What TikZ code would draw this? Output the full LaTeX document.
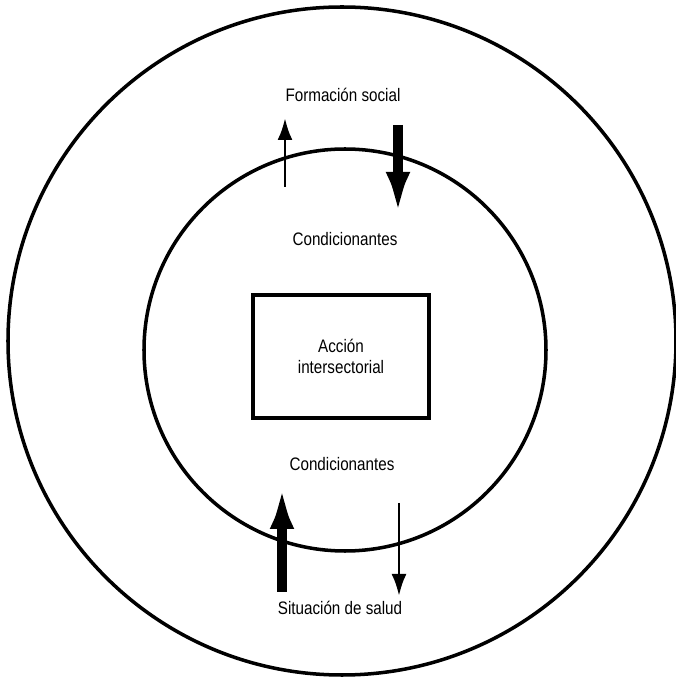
\documentclass[tikz,border=0pt]{standalone}
\usepackage{fontspec}
\setmainfont{Liberation Sans}[FakeStretch=0.84]
\usetikzlibrary{arrows.meta}

\begin{document}
\begin{tikzpicture}[
    lbl/.style={font=\fontsize{10.3}{12.4}\selectfont, inner sep=1pt},
    ring/.style={line width=2pt},
    thinarrow/.style={line width=1.7pt, -{Latex[length=0.44cm, width=0.3cm]}},
    thickarrow/.style={line width=5.8pt, -{Latex[length=1.02cm, width=0.46cm]}}
]
    % Frame
    \useasboundingbox (0,0) rectangle (13.5,13.56);

    % Circles
    \draw[ring] (6.84,6.74) circle (6.68);
    \draw[ring] (6.90,6.56) circle (4.02);

    % Centre box
    \node[draw, line width=2pt, minimum width=3.52cm, minimum height=2.46cm,
          align=center, lbl] (accion) at (6.82,6.43) {Acción\\intersectorial};

    % Labels
    \node[lbl] (formacion) at (6.86,11.66) {Formación social};
    \node[lbl] (condsup) at (6.90,8.78) {Condicionantes};
    \node[lbl] (condinf) at (6.84,4.28) {Condicionantes};
    \node[lbl] (salud) at (6.80,1.40) {Situación de salud};

    % Arrow ends
    \coordinate (supA) at (5.70,9.82);
    \coordinate (supB) at (5.70,11.20);
    \coordinate (supC) at (7.96,11.06);
    \coordinate (supD) at (7.96,9.10);
    \coordinate (infA) at (5.64,1.72);
    \coordinate (infB) at (5.64,4.00);
    \coordinate (infC) at (7.98,3.50);
    \coordinate (infD) at (7.98,1.64);

    % Arrows
    \draw[thinarrow] (supA) -- (supB);
    \draw[thickarrow] (supC) -- (supD);
    \draw[thickarrow] (infA) -- (infB);
    \draw[thinarrow] (infC) -- (infD);
\end{tikzpicture}
\end{document}
